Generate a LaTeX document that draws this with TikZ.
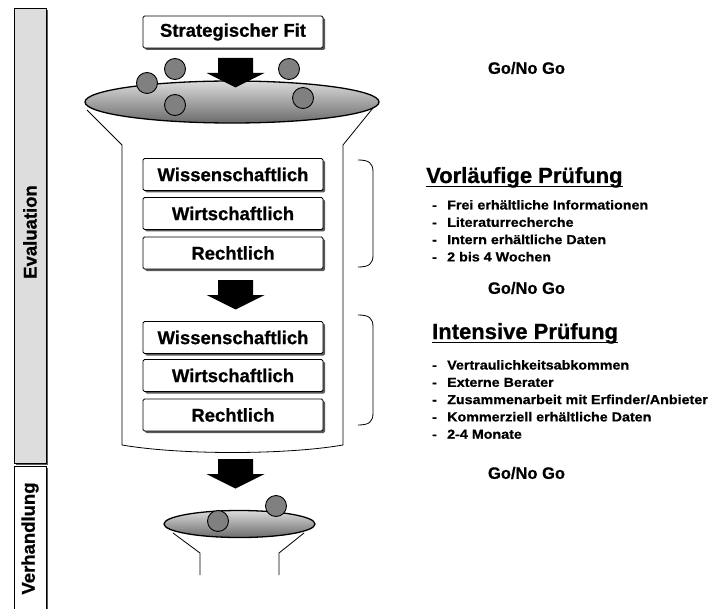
\documentclass[tikz,border=0pt]{standalone}
\usepackage{fontspec}
\setmainfont{Liberation Sans}
\newfontfamily\labelfont[FakeBold=0.8]{Liberation Sans Bold}
\newfontfamily\listfont[FakeStretch=1.1, FakeBold=0.8]{Liberation Sans Bold}
\usetikzlibrary{shadows}
\definecolor{barfill}{RGB}{221,221,221}
\definecolor{ballfill}{RGB}{128,128,128}

\tikzset{
  boxshadow/.style={drop shadow={shadow xshift=2pt, shadow yshift=-2pt, fill=black!65, opacity=1}},
  stagebox/.style={draw, line width=0.9pt, fill=white, minimum width=180pt, minimum height=32pt,
    rounded corners=1.5pt, inner sep=0pt, font=\labelfont\fontsize{18.5}{22}\selectfont, boxshadow},
  phasebar/.style={draw, line width=0.9pt, boxshadow},
  phaselabel/.style={rotate=90, inner sep=0pt, font=\labelfont\fontsize{18.5}{22}\selectfont},
  funnel/.style={line width=0.8pt},
  rim/.style={draw, line width=1.3pt, top color=black!14, middle color=black!22, bottom color=black!58},
  ball/.style={draw, line width=0.9pt, fill=ballfill},
  bracket/.style={line width=0.8pt},
  heading/.style={inner sep=0pt, font=\labelfont\fontsize{22}{26}\selectfont},
  listitem/.style={inner sep=0pt, anchor=base west, font=\listfont\fontsize{13}{17}\selectfont},
  decision/.style={inner sep=0pt, font=\labelfont\fontsize{16.5}{20}\selectfont},
  blockdown/.pic={\fill[black] (-17.5,0) -- (17.5,0) -- (17.5,15) -- (29,15) -- (0,29.5)
    -- (-29,15) -- (-17.5,15) -- cycle;}
}

\begin{document}
\begin{tikzpicture}[x=1pt,y=-1pt]
\useasboundingbox (0,0) rectangle (708,609);

% phase bars on the left
\path[phasebar, fill=barfill] (14,8) rectangle (46,463);
\node[phaselabel] (evaluation) at (30,232) {Evaluation};
\path[phasebar, fill=white] (14,466) rectangle (46,625);
\node[phaselabel] (verhandlung) at (30,538.5) {Verhandlung};

% upper funnel body
\draw[funnel] (87,110) -- (122,145) -- (122,445)
  .. controls (180,455) and (285,455) .. (343,445)
  -- (343,145) -- (373,108);

% upper funnel rim with ideas
\path[rim] (232,102) ellipse [x radius=147, y radius=21];
\foreach \px/\py [count=\i] in {147/83, 175/69, 175/105, 289/69, 303/98}
  \path[ball] (\px,\py) circle [radius=10.5];

% strategic fit entry
\node[stagebox] (fit) at (233,32) {Strategischer Fit};
\pic (arrowtop) at (235.5,58) {blockdown};

% preliminary review
\node[stagebox] (wiss1) at (233,174.5) {Wissenschaftlich};
\node[stagebox] (wirt1) at (233,213.5) {Wirtschaftlich};
\node[stagebox] (recht1) at (233,253) {Rechtlich};
\pic (arrowmid) at (235.5,280) {blockdown};

% intensive review
\node[stagebox] (wiss2) at (233,337.5) {Wissenschaftlich};
\node[stagebox] (wirt2) at (233,375.5) {Wirtschaftlich};
\node[stagebox] (recht2) at (233,415) {Rechtlich};
\pic (arrowlow) at (235.5,459) {blockdown};

% lower funnel (negotiation)
\draw[funnel] (173,533) -- (200,553) -- (200,575);
\draw[funnel] (304,533) -- (279,553) -- (279,575);
\path[rim] (239.5,524) ellipse [x radius=75.5, y radius=13.5];
\path[ball] (218,521) circle [radius=10.5];
\path[ball] (276,506) circle [radius=10.5];

% brackets grouping the reviews
\draw[bracket] (358,160) .. controls (369,160) and (373,163) .. (373,172) -- (373,255)
  .. controls (373,264) and (369,267) .. (358,267);
\draw[bracket] (358,315) .. controls (369,315) and (373,318) .. (373,327) -- (373,413)
  .. controls (373,422) and (369,425) .. (358,425);

% decisions
\node[decision] (go1) at (526.5,68) {Go/No Go};
\node[decision] (go2) at (526.5,288) {Go/No Go};
\node[decision] (go3) at (526.5,473) {Go/No Go};

% preliminary review notes
\node[heading, anchor=base west] (head1) at (426,183) {Vorläufige Prüfung};
\draw[line width=1.6pt] ([yshift=-3.5pt]head1.base west) -- ([yshift=-3.5pt]head1.base east);
\foreach \t [count=\i] in {Frei erhältliche Informationen, Literaturrecherche,
    Intern erhältliche Daten, 2 bis 4 Wochen} {
  \node[listitem] (dashA\i) at (432,{209.5+17.3*(\i-1)}) {-};
  \node[listitem] (itemA\i) at (447,{209.5+17.3*(\i-1)}) {\t};
}

% intensive review notes
\node[heading, anchor=base west] (head2) at (432,339) {Intensive Prüfung};
\draw[line width=1.6pt] ([yshift=-3.5pt]head2.base west) -- ([yshift=-3.5pt]head2.base east);
\foreach \t [count=\i] in {Vertraulichkeitsabkommen, Externe Berater,
    Zusammenarbeit mit Erfinder/Anbieter, Kommerziell erhältliche Daten, 2-4 Monate} {
  \node[listitem] (dashB\i) at (432,{369.5+17.3*(\i-1)}) {-};
  \node[listitem] (itemB\i) at (447,{369.5+17.3*(\i-1)}) {\t};
}
\end{tikzpicture}
\end{document}
